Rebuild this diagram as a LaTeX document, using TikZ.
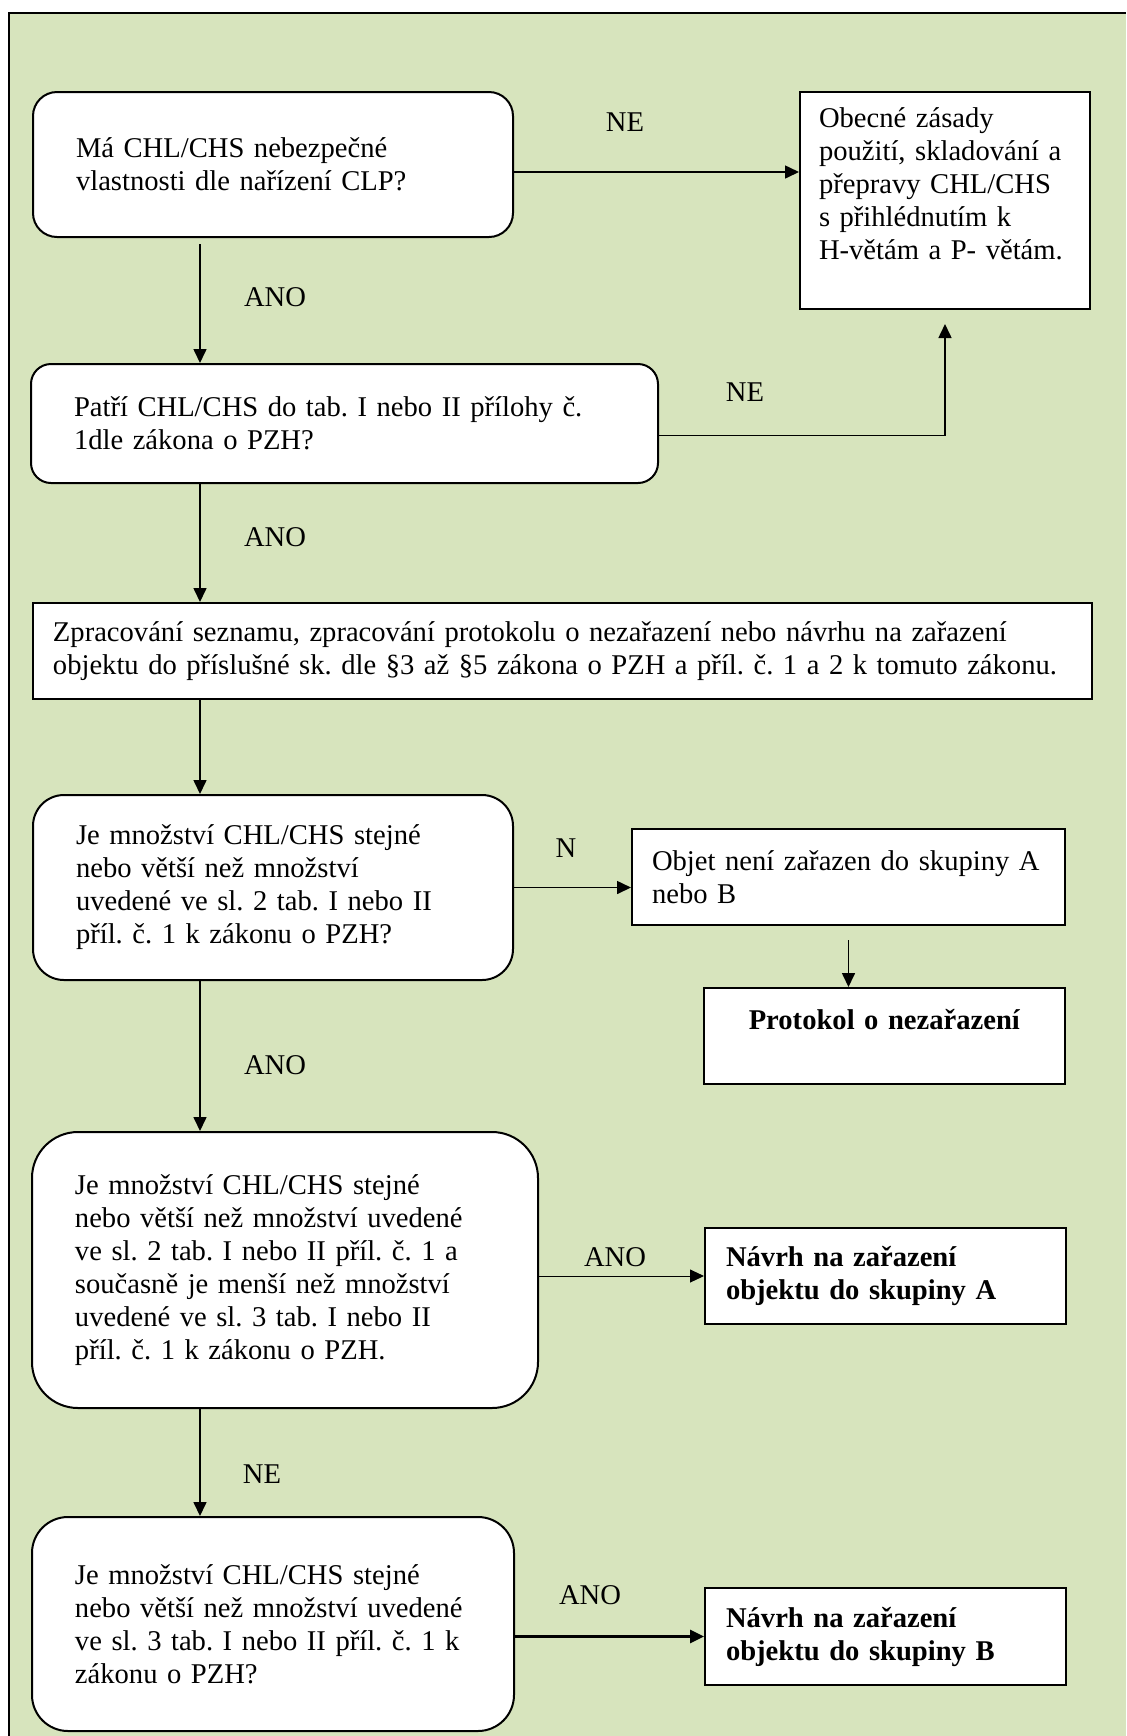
\documentclass[tikz,border=0pt]{standalone}
\usepackage{fontspec}
\setmainfont{Liberation Serif}
\usetikzlibrary{arrows.meta}
\definecolor{olivebg}{HTML}{D7E4BD}

\begin{document}
\begin{tikzpicture}[x=0.5pt, y=-0.5pt, line width=0.8pt, font=\fontsize{14.3pt}{16.5pt}\selectfont\frenchspacing,
  decision/.style={draw, line width=1pt, fill=white, rounded corners=#1, align=left, inner xsep=21.5pt},
  outcome/.style={draw, line width=1pt, fill=white, align=left, inner xsep=10pt},
  flow/.style={-{Triangle[length=7pt, width=6.5pt]}}]
\useasboundingbox (0,0) rectangle (1126,1736);
\fill[olivebg] (9,13) rectangle (1126,1736);
\draw[line width=1.2pt] (9,1736) -- (9,13) -- (1126,13);

\coordinate (spine) at (200,0);

% Questions
\node[decision=12pt, text width=197pt, minimum height=72.5pt] (q1) at (273,164.5) {Má CHL/CHS nebezpečné\\vlastnosti dle nařízení CLP?};
\node[decision=10pt, text width=270.5pt, minimum height=59.5pt] (q2) at (344.5,423.5) {Patří CHL/CHS do tab. I nebo II přílohy č.\\1dle zákona o PZH?};
\node[decision=15.5pt, text width=197pt, minimum height=92.5pt] (q3) at (273,887.5) {Je množství CHL/CHS stejné\\nebo větší než množství\\uvedené ve sl. 2 tab. I nebo II\\příl. č. 1 k zákonu o PZH?};
\node[decision=23pt, text width=210pt, minimum height=138pt] (q4) at (285,1270) {Je množství CHL/CHS stejné\\nebo větší než množství uvedené\\ve sl. 2 tab. I nebo II příl. č. 1 a\\současně je menší než množství\\uvedené ve sl. 3 tab. I nebo II\\příl. č. 1 k zákonu o PZH.};
\node[decision=18pt, text width=198pt, minimum height=107pt] (q5) at (273,1624) {Je množství CHL/CHS stejné\\nebo větší než množství uvedené\\ve sl. 3 tab. I nebo II příl. č. 1 k\\zákonu o PZH?};

% Outcomes
\node[outcome, text width=126pt, inner xsep=9.5pt, minimum height=108.5pt] (obecne) at (945,200.5) {Obecné zásady\\použití, skladování a\\přepravy CHL/CHS\\s přihlédnutím k\\H-větám a P- větám.\\ \mbox{}};
\node[outcome, text width=509.5pt, minimum height=48pt] (zprac) at (562.5,651) {Zpracování seznamu, zpracování protokolu o nezařazení nebo návrhu na zařazení\\objektu do příslušné sk. dle §3 až §5 zákona o PZH a příl. č. 1 a 2 k tomuto zákonu.};
\node[outcome, text width=196.5pt, minimum height=48pt] (nezar) at (848.5,877) {Objet není zařazen do skupiny A\\nebo B};
\node[outcome, text width=160.5pt, minimum height=48pt, align=center] (protokol) at (884.5,1036) {\textbf{Protokol o nezařazení}\\ \mbox{}};
\node[outcome, text width=159.5pt, inner xsep=10.5pt, minimum height=48pt, font=\fontsize{14.3pt}{16.5pt}\selectfont\frenchspacing\bfseries] (navrhA) at (885.5,1276) {Návrh na zařazení\\objektu do skupiny A};
\node[outcome, text width=159.5pt, inner xsep=10.5pt, minimum height=48.5pt, font=\fontsize{14.3pt}{16.5pt}\selectfont\frenchspacing\bfseries] (navrhB) at (885.5,1636.5) {Návrh na zařazení\\objektu do skupiny B};

% Down the left side
\draw[flow, shorten <=3pt] (q1.south -| spine) -- (q2.north -| spine);
\draw[flow] (q2.south -| spine) -- (zprac.north -| spine);
\draw[flow] (zprac.south -| spine) -- (q3.north -| spine);
\draw[flow] (q3.south -| spine) -- (q4.north -| spine);
\draw[flow] (q4.south -| spine) -- (q5.north -| spine);

% Out to the right
\draw[flow] ([yshift=-3.75pt]q1.east) -- ([yshift=-3.75pt]q1.east -| obecne.west);
\draw[flow, shorten >=7pt] ([yshift=-6pt]q2.east) -| (obecne.south);
\draw[flow] (q3.east) -- (q3.east -| nezar.west);
\draw[flow, shorten <=7pt] (nezar.south) -- (nezar.south |- protokol.north);
\draw[flow, line width=0.5pt] (navrhA.west -| q4.east) -- (navrhA.west);
\draw[flow, line width=1.4pt] (navrhB.west -| q5.east) -- (navrhB.west);

% Labels
\node (ne1) at (625,122) {NE};
\node (ano1) at (275,297) {ANO};
\node (ne2) at (745,392) {NE};
\node (ano2) at (275,537) {ANO};
\node (n3) at (566,848) {N};
\node (ano3) at (275,1065) {ANO};
\node (anoA) at (615,1257) {ANO};
\node (ne4) at (262,1474) {NE};
\node (anoB) at (590,1595) {ANO};
\end{tikzpicture}
\end{document}
